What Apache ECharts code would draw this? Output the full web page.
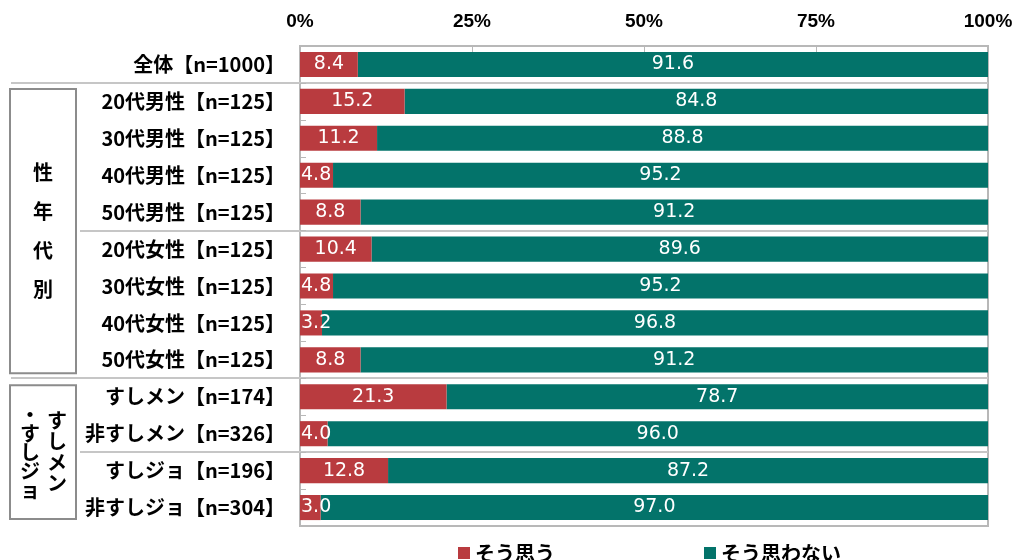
<!DOCTYPE html>
<html>
<head>
<meta charset="utf-8">
<script src="https://cdn.jsdelivr.net/npm/echarts@6/dist/echarts.min.js"></script>
<style>html,body{margin:0;padding:0;background:#fff;}#c{width:1016px;height:560px;}</style>
</head>
<body>
<div id="c"></div>
<script>
const categories = ['全体【n=1000】','20代男性【n=125】','30代男性【n=125】','40代男性【n=125】','50代男性【n=125】','20代女性【n=125】','30代女性【n=125】','40代女性【n=125】','50代女性【n=125】','すしメン【n=174】','非すしメン【n=326】','すしジョ【n=196】','非すしジョ【n=304】'];
const seriesNames = ['そう思う','そう思わない'];
const yesValues = [8.4,15.2,11.2,4.8,8.8,10.4,4.8,3.2,8.8,21.3,4.0,12.8,3.0];
const noValues = [91.6,84.8,88.8,95.2,91.2,89.6,95.2,96.8,91.2,78.7,96.0,87.2,97.0];
const groupLabels = ['性\n年\n代\n別'];
const groupLabel2Cols = ['す\nし\nメ\nン', '・\nす\nし\nジ\nョ'];
const separatorsAfter = [0, 4, 8, 10];

const RED = '#B93B3F', TEAL = '#03736A', GRAY = '#b8b8b8';
const chart = echarts.init(document.getElementById('c'));
const labelFont = {color:'#fff', fontFamily:'DejaVu Sans', fontSize:19};
chart.setOption({
  animation:false,
  grid:{left:300, right:28, top:46, bottom:34, show:true, borderColor:GRAY, borderWidth:2},
  legend:[
    {data:[seriesNames[0]], left:453, top:538, icon:'rect', itemWidth:12, itemHeight:12, itemGap:4,
     textStyle:{fontFamily:'Noto Sans CJK JP', fontWeight:'bold', fontSize:20, color:'#000'}},
    {data:[seriesNames[1]], left:699, top:538, icon:'rect', itemWidth:12, itemHeight:12, itemGap:4,
     textStyle:{fontFamily:'Noto Sans CJK JP', fontWeight:'bold', fontSize:20, color:'#000'}}
  ],
  xAxis:{type:'value', position:'top', min:0, max:100, interval:25,
    axisLine:{show:false}, splitLine:{show:false},
    axisTick:{show:true, inside:true, length:6, lineStyle:{color:GRAY, width:1}},
    axisLabel:{formatter:'{value}%', margin:15, color:'#000', fontFamily:'Liberation Sans', fontWeight:'bold', fontSize:19}},
  yAxis:{type:'category', inverse:true, data:categories,
    axisLine:{show:false},
    axisTick:{show:true, inside:true, length:6, lineStyle:{color:GRAY, width:1}},
    axisLabel:{margin:15, color:'#000', fontFamily:'Noto Sans CJK JP', fontWeight:'bold', fontSize:20}},
  series:[
    {name:seriesNames[0], type:'bar', stack:'s', barWidth:'68%', z:3, itemStyle:{color:RED},
     label:{show:true, position:'inside', formatter:p=>Number(p.value).toFixed(1), ...labelFont},
     data:yesValues.map(v=>({value:v, label: v < 6 ? {position:'insideLeft', distance:1} : undefined}))},
    {name:seriesNames[1], type:'bar', stack:'s', barWidth:'68%', itemStyle:{color:TEAL},
     label:{show:true, position:'inside', formatter:p=>Number(p.value).toFixed(1), ...labelFont},
     data:noValues}
  ]
});

function yc(i){ return chart.convertToPixel({gridIndex:0}, [0, i])[1]; }
const half = (yc(1) - yc(0)) / 2;
function boundary(i){ return yc(i) + half; }
const plotRight = chart.convertToPixel({gridIndex:0}, [100, 0])[0];
const graphics = [];
separatorsAfter.forEach((idx, k) => {
  const y = Math.round(boundary(idx));
  const x1 = (k % 2 === 0) ? 11 : 80;
  graphics.push({type:'line', z:0, shape:{x1:x1, y1:y, x2:plotRight, y2:y}, style:{stroke:'#c6c6c6', lineWidth:2}});
});
const box1Top = boundary(0) + 6, box1Bot = boundary(8) - 5;
const box2Top = boundary(8) + 7, box2Bot = boundary(categories.length - 1) - 7;
graphics.push({type:'rect', shape:{x:10, y:box1Top, width:66, height:box1Bot-box1Top}, style:{fill:'#fff', stroke:'#8c8c8c', lineWidth:2}});
graphics.push({type:'rect', shape:{x:10, y:box2Top, width:66, height:box2Bot-box2Top}, style:{fill:'#fff', stroke:'#8c8c8c', lineWidth:2}});
graphics.push({type:'text', x:43, y:(box1Top+box1Bot)/2, style:{text:groupLabels[0], align:'center', verticalAlign:'middle', lineHeight:39, fontFamily:'Noto Sans CJK JP', fontWeight:'bold', fontSize:20, fill:'#000'}});
graphics.push({type:'text', x:57, y:(box2Top+box2Bot)/2, style:{text:groupLabel2Cols[0], align:'center', verticalAlign:'middle', lineHeight:21, fontFamily:'Noto Sans CJK JP', fontWeight:'bold', fontSize:20, fill:'#000'}});
graphics.push({type:'text', x:30, y:(box2Top+box2Bot)/2, style:{text:groupLabel2Cols[1], align:'center', verticalAlign:'middle', lineHeight:19, fontFamily:'Noto Sans CJK JP', fontWeight:'bold', fontSize:20, fill:'#000'}});
chart.setOption({graphic:graphics});
</script>
</body>
</html>
